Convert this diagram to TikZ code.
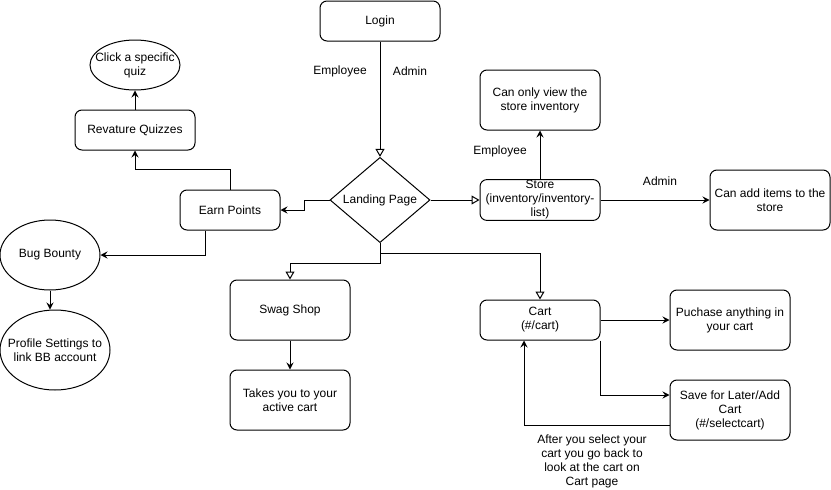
\documentclass[tikz,border=0pt]{standalone}
\usepackage{fontspec}
\setmainfont{Liberation Sans}
\usetikzlibrary{arrows.meta,shapes.geometric}

\tikzset{
  base/.style={draw, line width=1pt, align=center, inner sep=1pt,
               font=\fontsize{12}{14}\selectfont},
  box/.style={base, rounded corners=7pt, minimum width=120pt, minimum height=#1},
  box/.default=40pt,
  lbl/.style={align=center, inner sep=0pt, font=\fontsize{12}{14}\selectfont},
  % ellipse of fixed size whose text may reach past its outline
  oval/.style n args={3}{draw, line width=1pt, ellipse, inner sep=0pt,
               minimum width=#1, minimum height=#2,
               label={[lbl]center:#3}},
  decision/.style={base, diamond, inner sep=0pt, minimum width=100pt, minimum height=80pt},
  link/.style={line width=1pt, -{Stealth[length=7pt,width=7pt,inset=2.5pt]}},
  hollow/.style={line width=1pt, -{Triangle[open,length=8pt,width=9pt]}}
}

\begin{document}
\begin{tikzpicture}[x=1pt, y=-1pt]
  \useasboundingbox (0,0) rectangle (831,490);

  % main flow
  \node[box] (login) at (380,21) {Login};
  \node[decision] (land) at (380,200) {Landing Page};

  % store branch
  \node[box] (store) at (540,200) {Store\\(inventory/inventory-\\list)};
  \node[box=60pt] (view) at (540,100) {Can only view the\\store inventory};
  \node[box=60pt] (additems) at (770,200) {Can add items to the\\store};

  % points branch
  \node[box, minimum width=100pt] (earn) at (230,210) {Earn Points};
  \node[box] (quizzes) at (135,130) {Revature Quizzes};
  \node[oval={90pt}{50pt}{Click a specific\\quiz}] (quiz) at (135,65) {};
  \node[oval={100pt}{70pt}{Bug Bounty}] (bug) at (50,255) {};
  \node[oval={110pt}{80pt}{Profile Settings to\\link BB account}] (profile) at (55,350) {};

  % shop and cart
  \node[box=60pt] (swag) at (290,310) {Swag Shop};
  \node[box=60pt] (active) at (290,400) {Takes you to your\\active cart};
  \node[box] (cart) at (540,320) {Cart\\(\#/cart)};
  \node[box=60pt] (buy) at (730,320) {Puchase anything in\\your cart};
  \node[box=60pt] (save) at (730,410) {Save for Later/Add\\Cart\\(\#/selectcart)};

  % edge labels
  \node[lbl] (lemp) at (340,71) {Employee};
  \node[lbl] (ladm) at (410,71) {Admin};
  \node[lbl] (semp) at (500,151) {Employee};
  \node[lbl] (sadm) at (660,181) {Admin};
  \node[lbl] (back) at (592,461) {After you select your\\cart you go back to\\look at the cart on\\Cart page};

  % connectors
  \draw[hollow] (login.south) -- (land.north);
  \draw[hollow] (land.east) -- (store.west);
  \draw[link] (land.west) -- ++(-25,0) |- (earn.east);
  \draw[hollow] (land.south) -- ++(0,10) -| (cart.north);
  \draw[hollow] (land.south) -- ++(0,20) -| (swag.north);

  \draw[link] (store.north) -- (view.south);
  \draw[link] (store.east) -- (additems.west);

  \draw[link] (earn.north) -- ++(0,-20) -| (quizzes.south);
  \draw[link] (quizzes.north) -- (quiz.south);
  \draw[link] ([xshift=-25pt]earn.south) |- (bug.east);
  \draw[link] (bug.south) -- (bug.south |- profile.north);

  \draw[link] (swag.south) -- (active.north);
  \draw[link] (cart.east) -- (buy.west);
  \draw[link] (cart.south east) |- ([yshift=15pt]save.west);
  \draw[link] ([yshift=-15pt]save.west) -| ([xshift=-16pt]cart.south);
\end{tikzpicture}
\end{document}
